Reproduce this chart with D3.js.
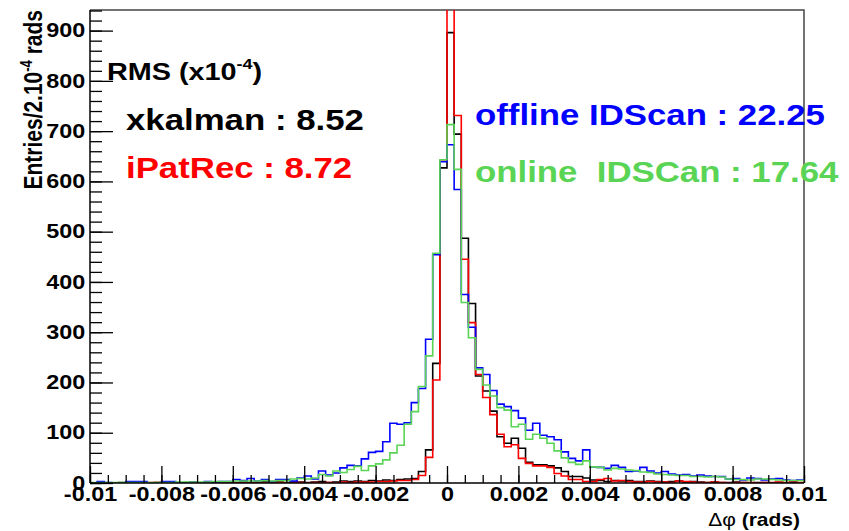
<!DOCTYPE html>
<html>
<head>
<meta charset="utf-8">
<script src="https://cdn.jsdelivr.net/npm/d3@7"></script>
<style>
  body { margin: 0; background: #fff; }
  text { font-family: "Liberation Sans", Arial, sans-serif; font-weight: bold; }
</style>
</head>
<body>
<div id="viz"></div>
<script>
// histogram contents, 100 bins of 2e-4 rad from -0.01 to 0.01
var xkalman = [
  0,1,0,0,1,0,0,1,0,1, 0,1,0,1,1,0,1,1,0,1, 1,2,1,1,2,1,2,1,2,2,
  1,2,3,1,2,4,3,4,3,5, 4,6,5,7,8,9,23,66,238,627,
  896,694,487,357,213,183,143,92,79,89, 69,41,36,36,34,30,23,13,13,10, 6,5,3,
  5,4,5,3,3,4,3,2,3,4, 2,3,2,1,2,1,1,2,1,0, 1,1,0,1,0,1,0
];
var ipatrec = [
  0,0,0,0,0,0,0,0,1,1, 0,0,0,0,1,0,0,0,0,0, 0,0,0,0,0,0,1,0,0,1,
  0,1,0,1,0,2,1,2,2,2, 3,3,4,5,5,7,15,51,205,640,
  1010,731,445,319,216,170,136,97,72,76, 49,39,34,34,31,19,14,7,7,3, 3,7,9,
  4,5,3,2,2,3,2,2,1,4, 3,2,1,1,2,1,0,1,1,1, 0,1,1,2,1,3,1
];
var offlineIDScan = [
  0,3,1,0,0,3,3,3,0,0, 3,3,0,0,2,0,3,0,3,3, 7,5,9,4,7,3,7,7,4,10,
  14,8,24,16,20,30,35,34,48,61, 63,82,119,117,120,160,188,286,454,639,
  673,584,375,310,229,216,184,157,152,144, 129,105,119,95,92,86,62,49,44,66, 32,31,29,
  35,31,23,24,31,24,20,23,18,16, 17,14,16,14,13,13,8,9,6,10, 9,6,8,9,6,5,6
];
var onlineIDSCan = [
  1,1,1,1,1,1,1,1,1,1, 1,1,2,2,2,2,2,3,3,3, 4,4,4,4,5,4,5,5,8,9,
  8,10,17,14,24,21,27,33,25,34, 38,46,60,75,117,142,192,253,457,643,
  713,624,359,289,226,195,173,150,145,112, 117,87,97,89,79,64,50,41,37,44, 32,31,26,
  29,28,26,25,22,21,18,17,16,15, 15,13,13,12,13,12,8,7,7,6, 8,8,7,6,5,5,5
];
var seriesNames = ["xkalman", "iPatRec", "offline IDScan", "online  IDSCan"];
var rmsValues = ["8.52", "8.72", "22.25", "17.64"];
var xTicks = [-0.01, -0.008, -0.006, -0.004, -0.002, 0, 0.002, 0.004, 0.006, 0.008, 0.01];
var yTicks = [0, 100, 200, 300, 400, 500, 600, 700, 800, 900];

(function(){
var W = 849, H = 531;
var pL = 90, pR = 804, pT = 10, pB = 483;
var sx = 1.2; // text is drawn horizontally stretched like the original

var svg = d3.select("#viz").append("svg")
  .attr("width", W).attr("height", H);
svg.append("rect").attr("width", W).attr("height", H).attr("fill", "#fff");

var x = d3.scaleLinear().domain([-0.01, 0.01]).range([pL, pR]);
var y = d3.scaleLinear().domain([0, 941]).range([pB, pT]);

svg.append("clipPath").attr("id", "clip")
  .append("rect").attr("x", pL).attr("y", pT)
  .attr("width", pR - pL).attr("height", pB - pT);

// frame
svg.append("path")
  .attr("d", "M" + pL + "," + pT + "H" + pR + "V" + pB)
  .attr("fill", "none").attr("stroke", "#444").attr("stroke-width", 1.5);

// histograms
var edges = d3.range(101).map(function(i){ return -0.01 + i * 0.0002; });
var line = d3.line()
  .x(function(d){ return x(d[0]); })
  .y(function(d){ return y(d[1]); })
  .curve(d3.curveStepAfter);
function steps(vals){
  var pts = vals.map(function(v, i){ return [edges[i], v]; });
  pts.push([edges[100], vals[vals.length - 1]]);
  return pts;
}
var hists = [
  {vals: xkalman, color: "#000000"},
  {vals: ipatrec, color: "#ff0000"},
  {vals: offlineIDScan, color: "#0000ff"},
  {vals: onlineIDSCan, color: "#59d454"}
];
svg.append("g").attr("clip-path", "url(#clip)")
  .selectAll("path").data(hists).enter().append("path")
  .attr("d", function(d){ return line(steps(d.vals)); })
  .attr("fill", "none")
  .attr("stroke", function(d){ return d.color; })
  .attr("stroke-width", 1.6);

// y axis
var yMinor = d3.range(0, 941, 20);
svg.append("g").attr("transform", "translate(" + pL + ",0)")
  .call(d3.axisLeft(y).tickValues(yMinor).tickSize(-12).tickFormat(""))
  .call(function(g){ g.select(".domain").remove(); });
var yAxis = svg.append("g").attr("transform", "translate(" + pL + ",0)")
  .call(d3.axisLeft(y).tickValues(yTicks).tickSize(-23).tickPadding(4)
    .tickFormat(d3.format("d")));
yAxis.select(".domain").attr("d", "M0," + pB + "V" + pT).attr("stroke-width", 1.5);

// x axis
var xMinor = d3.range(41).map(function(i){ return -0.01 + i * 0.0005; });
svg.append("g").attr("transform", "translate(0," + pB + ")")
  .call(d3.axisBottom(x).tickValues(xMinor).tickSize(-8).tickFormat(""))
  .call(function(g){ g.select(".domain").remove(); });
var xAxis = svg.append("g").attr("transform", "translate(0," + pB + ")")
  .call(d3.axisBottom(x).tickValues(xTicks).tickSize(-17).tickPadding(4)
    .tickFormat(function(d){ return String(+d.toFixed(3)); }));
xAxis.select(".domain").attr("d", "M" + pL + ",0H" + pR).attr("stroke-width", 1.5);

svg.selectAll(".tick line").attr("stroke", "#000").attr("stroke-width", 1.3);
svg.selectAll(".tick text")
  .attr("fill", "#000")
  .style("font-size", "19.5px")
  .style("font-family", "'Liberation Sans', Arial, sans-serif")
  .style("font-weight", "bold")
  .attr("transform", "scale(" + sx + ",1)");

// text helper
function label(px, py, size, color, anchor){
  return svg.append("text")
    .attr("transform", "translate(" + px + "," + py + ") scale(" + sx + ",1)")
    .attr("fill", color)
    .attr("text-anchor", anchor || "start")
    .style("font-size", size + "px")
    .style("white-space", "pre");
}

// axis titles
var yt = svg.append("text")
  .attr("transform", "translate(42," + pT + ") scale(" + sx + ",1) rotate(-90)")
  .attr("text-anchor", "end")
  .style("font-size", "21px");
yt.append("tspan").text("Entries/2.10");
yt.append("tspan").attr("dy", -8).style("font-size", "13px").text("-4");
yt.append("tspan").attr("dy", 8).text(" rads");

var xt = label(800, 526, 17.5, "#000", "end");
xt.append("tspan").style("font-weight", "normal").text("\u0394\u03c6");
xt.append("tspan").text(" (rads)");

// RMS box
var rms = label(107, 80, 24, "#000");
rms.append("tspan").text("RMS (x10");
rms.append("tspan").attr("dy", -11).style("font-size", "15px").text("-4");
rms.append("tspan").attr("dy", 11).text(")");

var entries = [
  {x: 126, y: 130, color: "#000000"},
  {x: 126, y: 178, color: "#ff0000"},
  {x: 475, y: 125, color: "#0000ff"},
  {x: 475, y: 182, color: "#59d454"}
];
entries.forEach(function(e, i){
  label(e.x, e.y, 29, e.color).text(seriesNames[i] + " : " + rmsValues[i]);
});
})();
</script>
</body>
</html>
